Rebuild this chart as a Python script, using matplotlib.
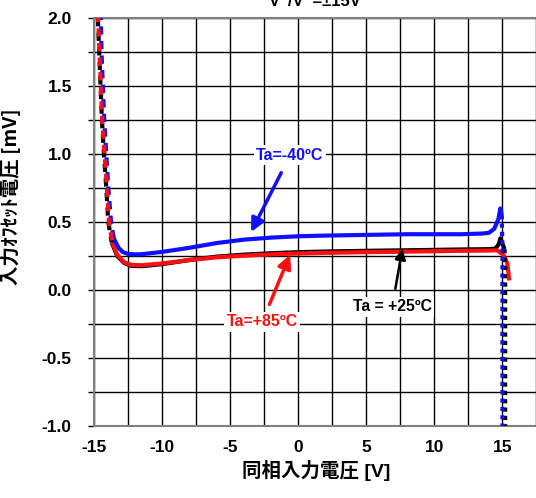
import numpy as np
import matplotlib
matplotlib.use("Agg")
import matplotlib.pyplot as plt
from matplotlib.ticker import MultipleLocator, FormatStrFormatter

plt.rcParams['font.family'] = ['Liberation Sans', 'Noto Sans CJK JP', 'DejaVu Sans']
plt.rcParams['font.weight'] = 'bold'
plt.rcParams['axes.unicode_minus'] = False

# 左側の急峻部分 (破線)
left_x_m40 = [-14.5, -14.45, -14.35, -14.25, -14.1, -13.95, -13.75, -13.55]
left_y_m40 = [2.0, 1.75, 1.5, 1.25, 1.0, 0.75, 0.5, 0.38]
left_x_25 = [-14.72, -14.62, -14.52, -14.42, -14.27, -14.1, -13.95, -13.7]
left_y_25 = [2.0, 1.75, 1.5, 1.25, 1.0, 0.75, 0.5, 0.35]
left_x_85 = [-14.7, -14.6, -14.5, -14.4, -14.22, -14.05, -13.9, -13.65]
left_y_85 = [2.0, 1.75, 1.5, 1.25, 1.0, 0.75, 0.5, 0.35]

# 本体 (実線)
main_x_m40 = [-13.55, -13.2, -12.9, -12.5, -12.0, -11.5, -10, -8, -6, -4, -2, 0, 2, 5, 8, 10, 12, 13.5, 14.0, 14.4, 14.7, 14.85, 14.95]
main_y_m40 = [0.38, 0.31, 0.28, 0.265, 0.262, 0.263, 0.28, 0.31, 0.345, 0.37, 0.385, 0.395, 0.40, 0.405, 0.41, 0.41, 0.41, 0.415, 0.42, 0.45, 0.52, 0.6, 0.55]
main_x_25 = [-13.7, -13.3, -12.8, -12.3, -11.5, -10, -8, -6, -4, -2, 0, 2, 5, 8, 10, 12, 14, 14.5, 14.75, 14.85, 15.0, 15.15]
main_y_25 = [0.35, 0.25, 0.2, 0.178, 0.175, 0.19, 0.22, 0.245, 0.26, 0.27, 0.278, 0.283, 0.288, 0.292, 0.295, 0.298, 0.30, 0.305, 0.34, 0.38, 0.34, 0.3]
main_x_85 = [-13.65, -13.3, -12.8, -12.3, -11.5, -10, -8, -6, -4, -2, 0, 2, 5, 8, 10, 12, 14, 14.6, 15.05, 15.35, 15.45, 15.5]
main_y_85 = [0.35, 0.26, 0.205, 0.185, 0.182, 0.195, 0.22, 0.24, 0.252, 0.262, 0.268, 0.273, 0.278, 0.282, 0.285, 0.288, 0.29, 0.292, 0.26, 0.2, 0.12, 0.07]

# 右側の垂直部分 (点線)
right_x_m40 = [14.95, 15.0, 15.0]
right_y_m40 = [0.55, 0.3, -1.0]
right_x_25 = [15.15, 15.2, 15.2]
right_y_25 = [0.3, 0.2, -1.0]

blue = '#1010ff'
red = '#ff1010'

fig = plt.figure(figsize=(5.36, 4.98), dpi=100)
ax = fig.add_axes([0.1754, 0.1446, 0.828, 0.8193])

ax.set_xlim(-15, 17.6)
ax.set_ylim(-1.0, 2.0)

ax.xaxis.set_major_locator(MultipleLocator(5))
ax.xaxis.set_minor_locator(MultipleLocator(2.5))
ax.yaxis.set_major_locator(MultipleLocator(0.5))
ax.yaxis.set_minor_locator(MultipleLocator(0.25))
ax.grid(which='both', color='black', linewidth=1.0)
ax.set_axisbelow(True)
ax.tick_params(which='both', direction='out', length=4, width=1, labelsize=12.5)
ax.tick_params(axis='y', pad=12)
ax.tick_params(axis='x', pad=10)
ax.tick_params(axis='x', which='both', length=0)
ax.yaxis.set_major_formatter(FormatStrFormatter('%.1f'))
for lab in ax.get_xticklabels() + ax.get_yticklabels():
    lab.set_fontweight('bold')
for s in ax.spines.values():
    s.set_color('#808080')
    s.set_linewidth(1.5)

lw = 3.0
ax.plot(main_x_85, main_y_85, color=red, lw=lw, solid_capstyle='butt', zorder=3)
ax.plot(main_x_25, main_y_25, color='black', lw=lw, solid_capstyle='butt', zorder=2)
ax.plot(main_x_m40, main_y_m40, color=blue, lw=lw, solid_capstyle='butt', zorder=3)

ax.plot(left_x_m40, left_y_m40, color=blue, lw=lw, ls=(1.5, (2, 1.5)), zorder=3)
ax.plot(left_x_25, left_y_25, color='black', lw=lw, ls=(0, (2, 1.5)), zorder=3)
ax.plot(left_x_85, left_y_85, color=red, lw=lw, ls=(1.0, (2, 1.5)), zorder=4)

ax.plot(right_x_25, right_y_25, color='black', lw=lw, ls=(0, (1, 1)), zorder=3)
ax.plot(right_x_m40, right_y_m40, color=blue, lw=lw, ls=(0, (1, 1)), zorder=4)

box = dict(boxstyle='square,pad=0.15', fc='white', ec='none')
ax.annotate('Ta=-40ºC', xy=(-3.46, 0.426), xytext=(-0.6, 0.99), color=blue,
            fontsize=11.5, fontweight='bold', ha='center', va='center', bbox=box,
            arrowprops=dict(arrowstyle='-|>', color=blue, lw=2.5, mutation_scale=20,
                            shrinkA=6, shrinkB=0), zorder=6)
ax.annotate('Ta=+85ºC', xy=(-0.6, 0.26), xytext=(-2.65, -0.235), color=red,
            fontsize=11.5, fontweight='bold', ha='center', va='center', bbox=box,
            arrowprops=dict(arrowstyle='-|>', color=red, lw=2.5, mutation_scale=20,
                            shrinkA=6, shrinkB=0), zorder=6)
ax.annotate('Ta = +25ºC', xy=(7.65, 0.305), xytext=(6.9, -0.125), color='black',
            fontsize=11.3, fontweight='bold', ha='center', va='center', bbox=box,
            arrowprops=dict(arrowstyle='-|>', color='black', lw=1.8, mutation_scale=16,
                            shrinkA=6, shrinkB=0), zorder=6)

ax.set_xlabel('同相入力電圧 [V]', fontsize=14, fontweight='bold',
              family=['Liberation Sans', 'Noto Sans CJK JP'], labelpad=4)
ax.set_ylabel('入力ｵﾌｾｯﾄ電圧 [mV]', fontsize=14, fontweight='bold',
              family=['Noto Sans CJK JP', 'Liberation Sans'])
ax.yaxis.set_label_coords(21 / 536, 1 - 197 / 498, transform=fig.transFigure)

fig.text(0.588, 0.988, 'V⁺/V⁻=±15V', ha='center', va='baseline', fontsize=12,
         fontweight='bold', family=['Liberation Sans', 'DejaVu Sans'])

fig.savefig('out.png', dpi=100)
